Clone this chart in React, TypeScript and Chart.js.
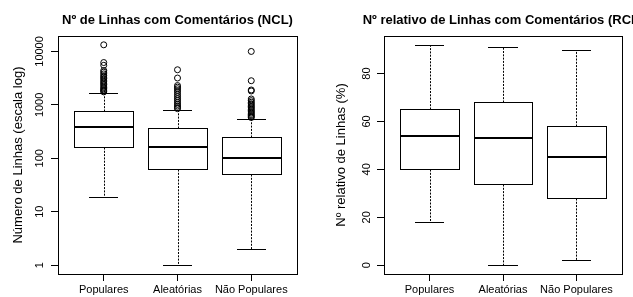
import React, { useEffect, useRef } from "react";
import { Chart, registerables } from "chart.js";

Chart.register(...registerables);

const FONT = "'Liberation Sans', Arial, Helvetica, sans-serif";

// ---------- Data ----------
const categories = ["Populares", "Aleatórias", "Não Populares"];

// Panel 1: Nº de Linhas com Comentários (NCL), log scale
const nclLowerWhisker = [19, 1, 2];
const nclQ1 = [162, 64, 51];
const nclMedian = [383, 160, 101];
const nclQ3 = [773, 373, 250];
const nclUpperWhisker = [1694, 817, 548];
const nclOutliersPopulares = [13300, 6200, 5500, 4400, 4100, 3800, 3500, 3300, 3100, 2900, 2700, 2550, 2400, 2250, 2100, 2000, 1900, 1820, 1750];
const nclOutliersAleatorias = [4540, 3180, 2300, 2150, 2000, 1850, 1700, 1550, 1420, 1300, 1200, 1100, 1020, 950, 890, 850];
const nclOutliersNaoPopulares = [10000, 2830, 1900, 1820, 1290, 1200, 1120, 1050, 990, 930, 880, 830, 780, 740, 700, 660, 630, 600, 580];
const nclTicks = [1, 10, 100, 1000, 10000];

// Panel 2: Nº relativo de Linhas com Comentários (RCL), %
const rclLowerWhisker = [18, 0, 2];
const rclQ1 = [40, 34, 28];
const rclMedian = [54, 53, 45];
const rclQ3 = [65, 68, 58];
const rclUpperWhisker = [92, 91, 90];
const rclTicks = [0, 20, 40, 60, 80];

const xTicks = [1, 2, 3];

type Stats = { lw: number[]; q1: number[]; med: number[]; q3: number[]; uw: number[] };

function makeBoxPlugin(stats: Stats, title: string) {
  return {
    id: "rbox",
    beforeDatasetsDraw(chart: any) {
      const { ctx, scales } = chart;
      const x = scales.x;
      const y = scales.y;
      ctx.save();
      ctx.strokeStyle = "#000";
      for (let i = 0; i < stats.med.length; i++) {
        const cx = x.getPixelForValue(i + 1);
        const half = x.getPixelForValue(i + 1 + 0.4) - cx;
        const staple = half / 2;
        const px = Math.round(cx) + 0.5;
        const yl = Math.round(y.getPixelForValue(stats.lw[i])) + 0.5;
        const y1 = Math.round(y.getPixelForValue(stats.q1[i])) + 0.5;
        const y3 = Math.round(y.getPixelForValue(stats.q3[i])) + 0.5;
        const yu = Math.round(y.getPixelForValue(stats.uw[i])) + 0.5;
        const ym = Math.round(y.getPixelForValue(stats.med[i]));
        // whiskers (dashed)
        ctx.lineWidth = 1;
        ctx.setLineDash([2, 1.3]);
        ctx.beginPath();
        ctx.moveTo(px, y3);
        ctx.lineTo(px, yu);
        ctx.moveTo(px, y1);
        ctx.lineTo(px, yl);
        ctx.stroke();
        ctx.setLineDash([]);
        // staples
        ctx.beginPath();
        ctx.moveTo(Math.round(cx - staple), yu);
        ctx.lineTo(Math.round(cx + staple), yu);
        ctx.moveTo(Math.round(cx - staple), yl);
        ctx.lineTo(Math.round(cx + staple), yl);
        ctx.stroke();
        // box
        const bl = Math.round(cx - half) + 0.5;
        const br = Math.round(cx + half) + 0.5;
        ctx.fillStyle = "#fff";
        ctx.fillRect(bl, y3, br - bl, y1 - y3);
        ctx.strokeRect(bl, y3, br - bl, y1 - y3);
        // median
        ctx.lineWidth = 2;
        ctx.beginPath();
        ctx.moveTo(bl, ym);
        ctx.lineTo(br, ym);
        ctx.stroke();
      }
      ctx.restore();
    },
    afterDraw(chart: any) {
      const { ctx, chartArea } = chart;
      ctx.save();
      ctx.strokeStyle = "#000";
      ctx.lineWidth = 1;
      const l = Math.round(chartArea.left) + 0.5;
      const t = Math.round(chartArea.top) + 0.5;
      const r = Math.round(chartArea.right) + 0.5;
      const b = Math.round(chartArea.bottom) + 0.5;
      ctx.strokeRect(l, t, r - l, b - t);
      ctx.fillStyle = "#000";
      ctx.font = `bold 13px ${FONT}`;
      ctx.textAlign = "center";
      ctx.textBaseline = "alphabetic";
      ctx.fillText(title, (chartArea.left + chartArea.right) / 2, 24);
      ctx.restore();
    },
  };
}

function buildPoints(groups: number[][]) {
  const pts: { x: number; y: number }[] = [];
  groups.forEach((g, i) => g.forEach((v) => pts.push({ x: i + 1, y: v })));
  return pts;
}

function makeConfig(opts: {
  stats: Stats;
  title: string;
  yTitle: string;
  yType: "linear" | "logarithmic";
  yMin: number;
  yMax: number;
  yTickValues: number[];
  yAxisWidth: number;
  rightPad: number;
  yLabelPad: number;
  yTitlePad: number;
  outliers: number[][];
}): any {
  return {
    type: "scatter",
    data: {
      datasets: [
        {
          data: buildPoints(opts.outliers),
          pointRadius: 3,
          pointHoverRadius: 3,
          borderWidth: 1,
          pointBorderColor: "#000",
          pointBackgroundColor: "rgba(0,0,0,0)",
          showLine: false,
        },
      ],
    },
    options: {
      responsive: false,
      animation: false,
      devicePixelRatio: 1,
      events: [],
      layout: { padding: { left: 0, right: opts.rightPad, top: 36, bottom: 0 } },
      plugins: {
        legend: { display: false },
        tooltip: { enabled: false },
        title: { display: false },
      },
      scales: {
        x: {
          type: "linear",
          min: 0.38,
          max: 3.62,
          afterBuildTicks: (scale: any) => {
            scale.ticks = xTicks.map((v) => ({ value: v }));
          },
          afterFit: (scale: any) => {
            scale.height = 23;
          },
          grid: {
            display: true,
            drawOnChartArea: false,
            drawTicks: true,
            tickLength: 7,
            color: "#000",
            lineWidth: 1,
          },
          border: { display: false },
          ticks: {
            autoSkip: false,
            maxRotation: 0,
            minRotation: 0,
            padding: 2,
            color: "#000",
            font: { family: FONT, size: 11 },
            callback: (v: any) => categories[Math.round(Number(v)) - 1] ?? "",
          },
        },
        y: {
          type: opts.yType,
          position: "left",
          min: opts.yMin,
          max: opts.yMax,
          afterBuildTicks: (scale: any) => {
            scale.ticks = opts.yTickValues.map((v) => ({ value: v }));
          },
          afterFit: (scale: any) => {
            scale.width = opts.yAxisWidth;
          },
          grid: {
            display: true,
            drawOnChartArea: false,
            drawTicks: true,
            tickLength: 7,
            color: "#000",
            lineWidth: 1,
          },
          border: { display: false },
          title: {
            display: true,
            text: opts.yTitle,
            color: "#000",
            font: { family: FONT, size: 13 },
            padding: { top: opts.yTitlePad, bottom: 0 },
          },
          ticks: {
            autoSkip: false,
            minRotation: 90,
            maxRotation: 90,
            crossAlign: "center",
            padding: opts.yLabelPad,
            color: "#000",
            font: { family: FONT, size: 11 },
            callback: (v: any) => String(v),
          },
        },
      },
    },
    plugins: [makeBoxPlugin(opts.stats, opts.title)],
  };
}

export default function App() {
  const leftRef = useRef<HTMLCanvasElement>(null);
  const rightRef = useRef<HTMLCanvasElement>(null);

  useEffect(() => {
    const left = new Chart(
      leftRef.current!,
      makeConfig({
        stats: { lw: nclLowerWhisker, q1: nclQ1, med: nclMedian, q3: nclQ3, uw: nclUpperWhisker },
        title: "Nº de Linhas com Comentários (NCL)",
        yTitle: "Número de Linhas (escala log)",
        yType: "logarithmic",
        yMin: 0.684,
        yMax: 19450,
        yTickValues: nclTicks,
        yAxisWidth: 58,
        rightPad: 19,
        yLabelPad: -4,
        yTitlePad: 11,
        outliers: [nclOutliersPopulares, nclOutliersAleatorias, nclOutliersNaoPopulares],
      })
    );
    const right = new Chart(
      rightRef.current!,
      makeConfig({
        stats: { lw: rclLowerWhisker, q1: rclQ1, med: rclMedian, q3: rclQ3, uw: rclUpperWhisker },
        title: "Nº relativo de Linhas com Comentários (RCL)",
        yTitle: "Nº relativo de Linhas (%)",
        yType: "linear",
        yMin: -3.68,
        yMax: 95.68,
        yTickValues: rclTicks,
        yAxisWidth: 68,
        rightPad: 11,
        yLabelPad: 4,
        yTitlePad: 18,
        outliers: [[], [], []],
      })
    );
    return () => {
      left.destroy();
      right.destroy();
    };
  }, []);

  return (
    <div style={{ position: "fixed", left: 0, top: 0, width: 633, height: 297, background: "#fff", overflow: "hidden" }}>
      <canvas ref={leftRef} width={316} height={297} style={{ position: "absolute", left: 0, top: 0, width: 316, height: 297 }} />
      <canvas ref={rightRef} width={317} height={297} style={{ position: "absolute", left: 316, top: 0, width: 317, height: 297 }} />
    </div>
  );
}
